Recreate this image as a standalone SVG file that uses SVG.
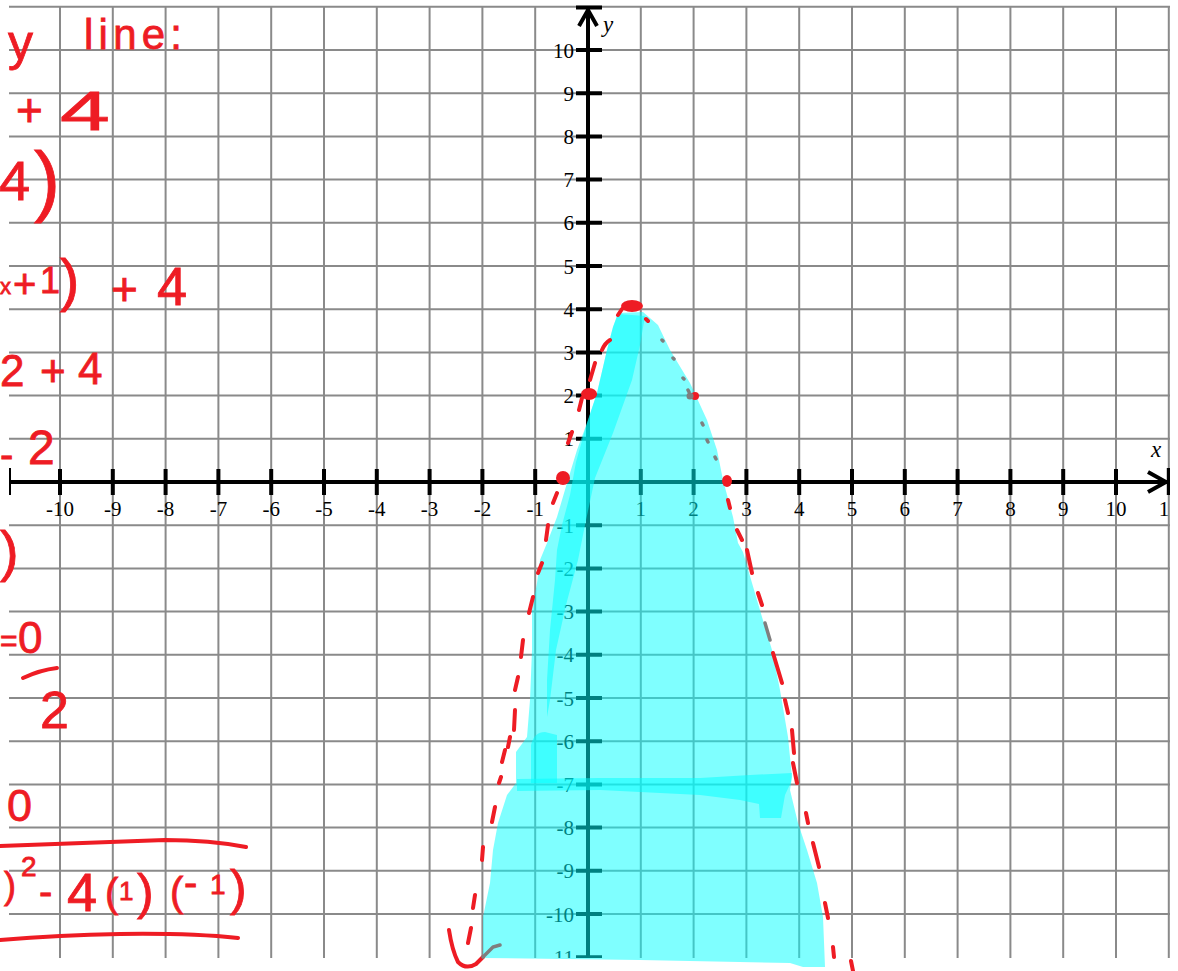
<svg xmlns="http://www.w3.org/2000/svg" width="1178" height="971" viewBox="0 0 1178 971">
<style>
.g{stroke:#8a8a8a;stroke-width:2;fill:none}
.ax{stroke:#000;stroke-width:4;fill:none}
.lbl{font-family:"Liberation Serif",serif;font-size:21px;fill:#000}
.xl{text-anchor:middle}
.yl{text-anchor:end}
.cy{fill:#00ffff;fill-opacity:0.5}
.rd{stroke:#ee1c24;stroke-width:4;stroke-linecap:round;stroke-linejoin:round;fill:none}
.gy{stroke:#7f7f7f;stroke-width:3.5;stroke-linecap:round;fill:none}
.hw{font-family:"Liberation Sans",sans-serif;fill:#ee1c24;stroke:#ee1c24;stroke-width:0.8}
</style>
<defs>
<clipPath id="cp"><rect x="9" y="5" width="1161" height="953"/></clipPath>
</defs>
<rect width="1178" height="971" fill="#fff"/>
<g id="plane" clip-path="url(#cp)">
<g id="grid">
<path class="g" d="M60 7V958M112.8 7V958M165.6 7V958M218.4 7V958M271.2 7V958M324 7V958M376.8 7V958M429.6 7V958M482.4 7V958M535.2 7V958M640.8 7V958M693.6 7V958M746.4 7V958M799.2 7V958M852 7V958M904.8 7V958M957.6 7V958M1010.4 7V958M1063.2 7V958M1116 7V958M1168.8 7V958"/>
<path class="g" d="M9 6.8H1170M9 50H1170M9 93.2H1170M9 136.4H1170M9 179.6H1170M9 222.8H1170M9 266H1170M9 309.2H1170M9 352.4H1170M9 395.6H1170M9 438.8H1170M9 525.2H1170M9 568.4H1170M9 611.6H1170M9 654.8H1170M9 698H1170M9 741.2H1170M9 784.4H1170M9 827.6H1170M9 870.8H1170M9 914H1170"/>
</g>
<g id="axes">
<path class="ax" d="M9 482H1168M588 8V960"/>
<path class="ax" d="M9 468V495M1168.8 468V495M576 7.5H602"/>
<path class="ax" d="M1148 472L1166 482L1148 492M579 26L588 10L597 26"/>
<path class="ax" d="M60 469V495M112.8 469V495M165.6 469V495M218.4 469V495M271.2 469V495M324 469V495M376.8 469V495M429.6 469V495M482.4 469V495M535.2 469V495M640.8 469V495M693.6 469V495M746.4 469V495M799.2 469V495M852 469V495M904.8 469V495M957.6 469V495M1010.4 469V495M1063.2 469V495M1116 469V495"/>
<path class="ax" d="M576 50H602M576 93.2H602M576 136.4H602M576 179.6H602M576 222.8H602M576 266H602M576 309.2H602M576 352.4H602M576 395.6H602M576 438.8H602M576 525.2H602M576 568.4H602M576 611.6H602M576 654.8H602M576 698H602M576 741.2H602M576 784.4H602M576 827.6H602M576 870.8H602M576 914H602M576 957.2H602"/>
</g>
<g id="xlabels" class="lbl xl">
<text x="60" y="516">-10</text><text x="112.8" y="516">-9</text><text x="165.6" y="516">-8</text><text x="218.4" y="516">-7</text><text x="271.2" y="516">-6</text><text x="324" y="516">-5</text><text x="376.8" y="516">-4</text><text x="429.6" y="516">-3</text><text x="482.4" y="516">-2</text><text x="535.2" y="516">-1</text><text x="640.8" y="516">1</text><text x="693.6" y="516">2</text><text x="746.4" y="516">3</text><text x="799.2" y="516">4</text><text x="852" y="516">5</text><text x="904.8" y="516">6</text><text x="957.6" y="516">7</text><text x="1010.4" y="516">8</text><text x="1063.2" y="516">9</text><text x="1116" y="516">10</text><text x="1168.8" y="516">11</text>
</g>
<g id="ylabels" class="lbl yl">
<text x="574" y="57.5">10</text><text x="574" y="100.7">9</text><text x="574" y="143.9">8</text><text x="574" y="187.1">7</text><text x="574" y="230.3">6</text><text x="574" y="273.5">5</text><text x="574" y="316.7">4</text><text x="574" y="359.9">3</text><text x="574" y="403.1">2</text><text x="574" y="446.3">1</text><text x="574" y="532.7">-1</text><text x="574" y="575.9">-2</text><text x="574" y="619.1">-3</text><text x="574" y="662.3">-4</text><text x="574" y="705.5">-5</text><text x="574" y="748.7">-6</text><text x="574" y="791.9">-7</text><text x="574" y="835.1">-8</text><text x="574" y="878.3">-9</text><text x="574" y="921.5">-10</text><text x="574" y="964.7">-11</text>
</g>
<text x="603" y="32" style="font-family:'Liberation Serif',serif;font-style:italic;font-size:23px">y</text>
<text x="1151" y="457" style="font-family:'Liberation Serif',serif;font-style:italic;font-size:23px">x</text>
</g>
<g id="shading">
<path class="cy" d="M618 313L643 312L658 325L670 350L690 383L707 420L717 450L723 480L733 517L738 543L743 552L752 583L762 617L772 650L780 690L788 737L792 777L790 790L798 823L807 850L817 883L823 917L825 967L803 967L790 963L640 960L483 958L483 917L490 883L493 850L498 823L507 795L516 783L516 752L527 737L530 700L532 650L532 610L537 583L540 560L547 543L557 517L567 483L577 450L587 423L597 393L607 350L613 327Z"/>
<path class="cy" d="M618 314L645 316L640 345L632 380L613 433L595 478L585 525L578 560L566 605L556 650L550 700L547 717L547 680L550 630L555 580L557 550L562 525L570 495L576 462L587 423L597 393L607 350L613 327Z"/>
<path class="cy" d="M531 745Q534 732 545 732L557 735L557 783L531 783Z"/>
<path class="cy" d="M517 779L600 778L700 778L750 775L792 773L791 782L785 795L781 818L760 818L759 804L740 800L700 795L600 790L517 791Z"/>
</g>
<g id="curve">
<ellipse cx="632" cy="306" rx="11" ry="6" fill="#ee1c24"/>
<ellipse cx="589" cy="394" rx="8" ry="6" fill="#ee1c24"/>
<ellipse cx="563" cy="478" rx="7" ry="7" fill="#ee1c24"/>
<ellipse cx="695" cy="396" rx="4" ry="4" fill="#ee1c24"/>
<ellipse cx="727" cy="481" rx="5" ry="6" fill="#ee1c24"/>
<circle cx="690" cy="396" r="3.5" fill="#7f7f7f"/>
<path class="rd" d="M618 315L622 309M602 350Q605 343 610 340M595 363L590 380M582 398L579 410M572 432L568 443M557 493L553 503M548 525L546 540M542 563L538 573M533 597L529 613M523 640L521 657M518 677L515 690M515 710L514 730M510 737L508 747M505 750L502 762M501 777L499 783M495 807L492 822M483 847L482 860M475 895L473 908M471 928L468 943M449 930Q452 950 458 962Q466 970 476 964L483 957M646 319L648 321"/>
<path class="rd" d="M728 500L730 508M737 530L742 540M747 550L752 573M758 593L762 605M773 653L782 683M785 700L788 713M792 730L794 753M793 763L797 783M806 813L808 823M813 843L819 867M825 903L828 918M833 947L834 957M851 961L853 971"/>
<path class="gy" d="M483 957L493 947L500 945M662 340L663 341M673 358L674 359M683 378L684 379M688 390L689 392M702 423L703 425M707 440L708 442M715 457L716 459M765 623L770 640"/>
</g>
<g id="notes" class="hw">
<text x="8" y="60" font-size="50">y</text>
<text x="84" y="49" font-size="42" textLength="98" lengthAdjust="spacing">line:</text>
<text x="16" y="126" font-size="46">+</text>
<text transform="translate(60 130) scale(1.6 1)" font-size="56">4</text>
<text><tspan x="-1" y="200" font-size="56">4</tspan><tspan x="34" y="207" font-size="78">)</tspan></text>
<text font-size="40"><tspan x="0" y="294" font-size="22">x</tspan><tspan x="13" y="298">+</tspan><tspan x="40" y="293" font-size="36">1</tspan><tspan x="60" y="300" font-size="58">)</tspan><tspan x="111" y="305" font-size="46">+</tspan><tspan x="157" y="305" font-size="54">4</tspan></text>
<text font-size="44"><tspan x="0" y="386">2</tspan><tspan x="40" y="386">+</tspan><tspan x="78" y="384">4</tspan></text>
<text font-size="48"><tspan x="0" y="468" font-size="40">-</tspan><tspan x="28" y="464">2</tspan></text>
<text x="0" y="570" font-size="56">)</text>
<text font-size="44"><tspan x="0" y="651" font-size="30">=</tspan><tspan x="18" y="653">0</tspan></text>
<text x="40" y="728" font-size="52">2</text>
<text x="7" y="821" font-size="45">0</text>
<text font-size="40"><tspan x="4" y="898" font-size="36">)</tspan><tspan x="21" y="876" font-size="28">2</tspan><tspan x="39" y="905">-</tspan><tspan x="67" y="911" font-size="54">4</tspan><tspan x="105" y="907">(</tspan><tspan x="119" y="900" font-size="26">1</tspan><tspan x="137" y="909" font-size="50">)</tspan><tspan x="170" y="906">(</tspan><tspan x="184" y="896">-</tspan><tspan x="210" y="894" font-size="28">1</tspan><tspan x="230" y="905" font-size="50">)</tspan></text>
</g>
<g id="rules">
<path class="rd" d="M23 678Q40 670 57 668"/>
<path class="rd" d="M0 846Q80 843 165 840Q210 840 246 847"/>
<path class="rd" d="M0 940Q60 935 120 934Q190 933 238 938"/>
</g>
</svg>
